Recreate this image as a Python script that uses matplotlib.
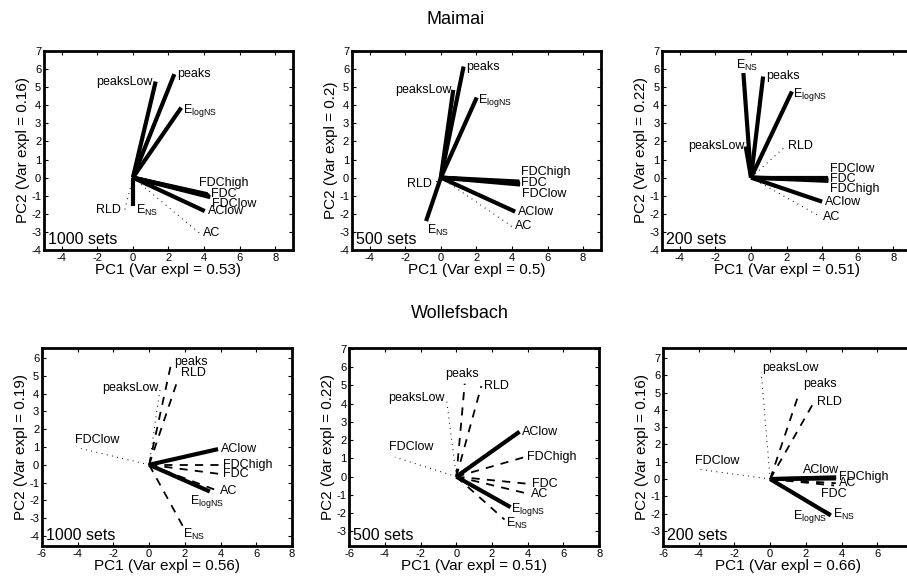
import numpy as np
import matplotlib
matplotlib.use('Agg')
import matplotlib.pyplot as plt

plt.rcParams['font.family'] = ['Liberation Sans', 'DejaVu Sans']
plt.rcParams['mathtext.fontset'] = 'custom'
plt.rcParams['mathtext.rm'] = 'Liberation Sans'
plt.rcParams['axes.unicode_minus'] = False

# variable names (same order in every panel)
names = ['peaks', 'peaksLow', 'ElogNS', 'ENS', 'RLD', 'AC', 'AClow', 'FDC', 'FDChigh', 'FDClow']
label_text = {'peaks': 'peaks', 'peaksLow': 'peaksLow', 'ElogNS': r'E$_{\rm logNS}$',
              'ENS': r'E$_{\rm NS}$', 'RLD': 'RLD', 'AC': 'AC', 'AClow': 'AClow',
              'FDC': 'FDC', 'FDChigh': 'FDChigh', 'FDClow': 'FDClow'}

# loadings: PC1, PC2 and a line class (s=solid, d=dashed, o=dotted)
mai_1000_pc1 = [2.33, 1.28, 2.72, 0.00, -0.46, 3.76, 4.04, 4.30, 4.20, 4.35]
mai_1000_pc2 = [5.72, 5.31, 3.87, -1.57, -1.79, -3.08, -1.85, -1.00, -0.92, -1.08]
mai_1000_cls = ['s', 's', 's', 's', 'o', 'o', 's', 's', 's', 's']

mai_500_pc1 = [1.28, 0.70, 2.02, -0.83, -0.37, 4.00, 4.18, 4.44, 4.42, 4.46]
mai_500_pc2 = [6.14, 4.85, 4.43, -2.40, -0.35, -2.70, -1.88, -0.30, -0.22, -0.38]
mai_500_cls = ['s', 's', 's', 's', 'o', 'o', 's', 's', 's', 's']

mai_200_pc1 = [0.68, -0.30, 2.30, -0.43, 1.92, 3.90, 4.00, 4.35, 4.35, 4.35]
mai_200_pc2 = [5.59, 1.72, 4.76, 5.78, 1.72, -2.16, -1.33, -0.10, -0.18, 0.00]
mai_200_cls = ['s', 's', 's', 's', 'o', 'o', 's', 's', 's', 's']

wol_1000_pc1 = [1.25, 0.62, 3.40, 1.92, 1.64, 3.82, 3.86, 4.00, 3.97, -3.82]
wol_1000_pc2 = [5.75, 4.32, -1.50, -3.50, 4.88, -1.45, 0.88, -0.52, 0.00, 0.91]
wol_1000_cls = ['d', 'o', 's', 'd', 'd', 'd', 's', 'd', 'd', 'o']

wol_500_pc1 = [0.47, -0.56, 3.04, 2.70, 1.40, 4.00, 3.54, 4.10, 3.82, -3.44]
wol_500_pc2 = [5.09, 4.31, -1.67, -2.35, 4.96, -0.93, 2.46, -0.40, 1.07, 1.07]
wol_500_cls = ['d', 'o', 's', 'd', 'd', 'd', 's', 'd', 'd', 'o']

wol_200_pc1 = [1.60, -0.50, 3.40, 3.45, 2.45, 3.68, 3.68, 3.58, 3.70, -3.96]
wol_200_pc2 = [4.90, 6.16, -2.10, -2.05, 4.44, -0.24, 0.04, -0.37, 0.10, 0.56]
wol_200_cls = ['d', 'o', 's', 'd', 'd', 'd', 's', 'd', 's', 'o']

n_sets = ['1000 sets', '500 sets', '200 sets']
mai_var = [(0.53, 0.16), (0.5, 0.2), (0.51, 0.22)]
wol_var = [(0.56, 0.19), (0.51, 0.22), (0.66, 0.16)]

# line look for each class
line_style = {'s': dict(lw=3.0, ls='-'),
              'd': dict(lw=1.3, ls=(0, (4.5, 4))),
              'o': dict(lw=0.8, ls=(0, (0.8, 4)))}

# label placement: name -> (ha, va, dx, dy) in points; default is right of the tip
default_pos = ('left', 'center', 2, 0)
mai_pos = [
    {'peaksLow': ('right', 'center', -2, 0), 'RLD': ('right', 'center', -3, 0),
     'ENS': ('left', 'center', 2, -3), 'ElogNS': ('left', 'center', 1, -2),
     'FDChigh': ('left', 'center', -6, 8), 'FDC': ('left', 'center', 1, 1),
     'FDClow': ('left', 'center', 1, -5)},
    {'peaksLow': ('right', 'center', -1, 0), 'RLD': ('right', 'center', -2, 0),
     'ENS': ('left', 'top', 1, -1), 'ElogNS': ('left', 'center', 1, -2),
     'FDChigh': ('left', 'center', 1, 7), 'FDC': ('left', 'center', 1, 0),
     'FDClow': ('left', 'center', 1, -7)},
    {'peaksLow': ('right', 'center', -1, 0), 'ENS': ('center', 'bottom', 3, 0),
     'ElogNS': ('left', 'center', 1, -2), 'RLD': ('left', 'center', 2, 0),
     'FDClow': ('left', 'center', 1, 6), 'FDC': ('left', 'center', 1, 0),
     'FDChigh': ('left', 'center', 1, -6)},
]
wol_pos = [
    {'peaksLow': ('right', 'center', -1, 0), 'RLD': ('left', 'bottom', 2, -1),
     'FDClow': ('left', 'bottom', -4, 2), 'ElogNS': ('center', 'top', -2, -1),
     'ENS': ('left', 'top', 0, 0)},
    {'peaks': ('center', 'bottom', -2, 3), 'peaksLow': ('right', 'center', -1, 0),
     'FDClow': ('left', 'bottom', -4, 3), 'ElogNS': ('left', 'center', 0, -2),
     'ENS': ('left', 'center', 1, -3)},
    {'peaksLow': ('left', 'center', 1, 3), 'peaks': ('left', 'bottom', 3, 3),
     'FDClow': ('left', 'bottom', -3, 2), 'AClow': ('right', 'bottom', 2, 2),
     'FDC': ('center', 'top', 0, -2), 'ElogNS': ('right', 'center', -3, -1),
     'ENS': ('left', 'center', 1, 0)},
]


def draw_panel(ax, pc1, pc2, cls, pos, tag, var, xlim, ylim, xticks, yticks):
    # draw loading vectors from origin, dotted first so solid lines sit on top
    order = sorted(range(len(names)), key=lambda i: {'o': 0, 'd': 1, 's': 2}[cls[i]])
    for i in order:
        ax.plot([0, pc1[i]], [0, pc2[i]], color='black', solid_capstyle='butt',
                dash_capstyle='butt', **line_style[cls[i]])
    for i, name in enumerate(names):
        ha, va, dx, dy = pos.get(name, default_pos)
        ax.annotate(label_text[name], (pc1[i], pc2[i]), xytext=(dx, dy),
                    textcoords='offset points', ha=ha, va=va, fontsize=9)
    ax.text(0.015, 0.015, tag, transform=ax.transAxes, ha='left', va='bottom', fontsize=11.5)
    ax.set_xticks(xticks)
    ax.set_yticks(yticks)
    ax.set_xlim(xlim)
    ax.set_ylim(ylim)
    ax.tick_params(direction='in', length=3, width=0.8, top=True, right=True,
                   labelsize=8, pad=2)
    for sp in ax.spines.values():
        sp.set_linewidth(2.0)
    ax.set_xlabel('PC1 (Var expl = %g)' % var[0], fontsize=11, labelpad=0)
    ax.set_ylabel('PC2 (Var expl = %g)' % var[1], fontsize=11, labelpad=1)


fig = plt.figure(figsize=(9.07, 5.76), dpi=100)

top_left = [0.0485, 0.388, 0.730]
bot_left = [0.0463, 0.385, 0.731]

mai_data = [(mai_1000_pc1, mai_1000_pc2, mai_1000_cls),
            (mai_500_pc1, mai_500_pc2, mai_500_cls),
            (mai_200_pc1, mai_200_pc2, mai_200_cls)]
wol_data = [(wol_1000_pc1, wol_1000_pc2, wol_1000_cls),
            (wol_500_pc1, wol_500_pc2, wol_500_cls),
            (wol_200_pc1, wol_200_pc2, wol_200_cls)]
wol_ylims = [(-4.56, 6.56), (-3.8, 7.05), (-3.87, 7.58)]
wol_yticks = [np.arange(-4, 7), np.arange(-3, 8), np.arange(-3, 8)]
# the last panel runs past the right edge of the picture, so its "8" is not shown
wol_xticks = [np.arange(-6, 9, 2), np.arange(-6, 9, 2), np.arange(-6, 7, 2)]

for k in range(3):
    ax = fig.add_axes([top_left[k], 0.566, 0.2745, 0.3455])
    x, y, c = mai_data[k]
    draw_panel(ax, x, y, c, mai_pos[k], n_sets[k], mai_var[k],
               (-5, 9), (-4, 7), np.arange(-4, 9, 2), np.arange(-4, 8))

for k in range(3):
    ax = fig.add_axes([bot_left[k], 0.052, 0.2756, 0.344])
    x, y, c = wol_data[k]
    draw_panel(ax, x, y, c, wol_pos[k], n_sets[k], wol_var[k],
               (-6, 8), wol_ylims[k], wol_xticks[k], wol_yticks[k])

fig.text(0.502, 1 - 20 / 576, 'Maimai', ha='center', va='center', fontsize=13)
fig.text(0.507, 1 - 313 / 576, 'Wollefsbach', ha='center', va='center', fontsize=13)

fig.savefig('out.png', dpi=100)
